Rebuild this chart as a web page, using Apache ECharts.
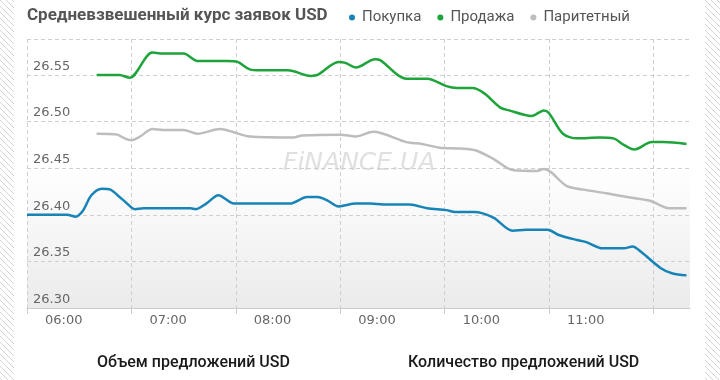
<!DOCTYPE html>
<html><head><meta charset="utf-8">
<script src="https://cdn.jsdelivr.net/npm/echarts@6/dist/echarts.min.js"></script>
<style>html,body{margin:0;padding:0;background:#fff}#c{width:720px;height:380px}</style>
</head><body><div id="c"></div>
<script>
const xTickLabels = ['06:00','07:00','08:00','09:00','10:00','11:00'];
const seriesNames = ['Покупка','Продажа','Паритетный'];

const buyTimes = ['06:00','06:23','06:28','06:32','06:37','06:43','06:48','06:52','06:57','07:02','07:07','07:34','07:37','07:43','07:50','07:59','08:08','08:31','08:41','08:47','08:53','08:59','09:09','09:17','09:25','09:40','09:50','10:01','10:06','10:17','10:28','10:39','10:47','10:59','11:06','11:16','11:21','11:31','11:43','11:48','11:53','12:04','12:11','12:19'];
const buyValues = [26.400,26.400,26.398,26.404,26.421,26.428,26.427,26.421,26.413,26.406,26.407,26.407,26.406,26.412,26.421,26.412,26.412,26.412,26.419,26.419,26.415,26.409,26.412,26.412,26.411,26.411,26.407,26.405,26.403,26.403,26.397,26.383,26.384,26.384,26.378,26.373,26.371,26.364,26.364,26.366,26.360,26.343,26.337,26.335];

const sellTimes = ['06:40','06:53','06:59','07:12','07:18','07:30','07:38','07:55','08:01','08:08','08:14','08:30','08:43','08:47','08:59','09:03','09:09','09:20','09:23','09:38','09:50','10:01','10:07','10:16','10:23','10:32','10:37','10:50','10:57','11:00','11:08','11:16','11:29','11:37','11:43','11:49','11:59','12:06','12:19'];
const sellValues = [26.550,26.550,26.547,26.574,26.573,26.573,26.565,26.565,26.564,26.556,26.555,26.555,26.549,26.550,26.564,26.563,26.558,26.567,26.566,26.546,26.546,26.538,26.536,26.536,26.530,26.515,26.512,26.506,26.512,26.509,26.487,26.482,26.483,26.482,26.475,26.470,26.478,26.478,26.476];

const parTimes = ['06:40','06:52','06:55','07:00','07:05','07:12','07:18','07:30','07:38','07:51','07:58','08:08','08:33','08:38','09:00','09:09','09:19','09:38','09:47','09:57','10:09','10:18','10:28','10:39','10:53','10:57','11:01','11:10','11:20','11:33','11:45','11:58','12:09','12:19'];
const parValues = [26.487,26.486,26.483,26.480,26.484,26.492,26.491,26.491,26.487,26.492,26.489,26.484,26.483,26.485,26.486,26.484,26.489,26.478,26.476,26.472,26.471,26.469,26.460,26.448,26.447,26.449,26.446,26.431,26.427,26.423,26.419,26.415,26.407,26.407];

function toMin(t){const p=t.split(':');return +p[0]*60 + +p[1];}
function pairs(ts, vs){return ts.map((t,i)=>[toMin(t), vs[i]]);}

// hatch pattern
const pc = document.createElement('canvas'); pc.width=6; pc.height=6;
const g = pc.getContext('2d'); g.strokeStyle='#d4d4d4'; g.lineWidth=1;
g.beginPath(); g.moveTo(0,0); g.lineTo(6,6); g.moveTo(-3,3); g.lineTo(3,9); g.moveTo(3,-3); g.lineTo(9,3); g.stroke();

const chart = echarts.init(document.getElementById('c'));
const colors = ['#1684b6','#1ea43a','#bdbdbd'];
const ff = 'Roboto, "Liberation Sans", sans-serif';
chart.setOption({
  animation:false,
  color: colors,
  title:[
    {text:'Средневзвешенный курс заявок USD', left:22, top:2, textStyle:{fontFamily:ff, fontWeight:'bold', fontSize:17, color:'#555'}},
    {text:'Объем предложений USD', left:92, top:350, textStyle:{fontFamily:ff, fontWeight:500, fontSize:16, color:'#1a1a1a'}},
    {text:'Количество предложений USD', left:403, top:350, textStyle:{fontFamily:ff, fontWeight:500, fontSize:16, color:'#1a1a1a'}}
  ],
  legend:{left:344, top:5, icon:'circle', itemWidth:6, itemHeight:6, itemGap:16,
    textStyle:{fontFamily:ff, fontSize:15, color:'#555', padding:[0,0,0,2]},
    data: seriesNames},
  grid:{left:27, right:30, top:39, bottom:72, show:true, borderWidth:0,
    backgroundColor:{type:'linear',x:0,y:0,x2:0,y2:1,colorStops:[{offset:0,color:'#ffffff'},{offset:0.48,color:'#ffffff'},{offset:1,color:'#ebebeb'}]}},
  xAxis:{type:'value', min:360, max:741, interval:60,
    axisLine:{show:true, lineStyle:{color:'#cccccc'}},
    axisTick:{show:true, length:6, lineStyle:{color:'#cccccc'}},
    splitLine:{show:true, showMaxLine:false, lineStyle:{color:'#cfcfcf', type:[4,3]}},
    axisLabel:{showMaxLabel:false, align:'left', padding:[0,0,0,18], margin:6, fontFamily:'DejaVu Sans', fontSize:13, color:'#666',
      formatter:v=>xTickLabels[Math.round((v-360)/60)]||''}},
  yAxis:{type:'value', min:26.30, max:26.5886, interval:0.05,
    axisLine:{show:false}, axisTick:{show:false},
    splitLine:{show:true, lineStyle:{color:'#cfcfcf', type:[4,3]}},
    axisLabel:{inside:true, showMaxLabel:false, margin:6, verticalAlign:'bottom', padding:[0,0,2,0], fontFamily:'DejaVu Sans', fontSize:13, color:'#666',
      formatter:v=>v.toFixed(2)}},
  graphic:[
    {type:'rect', left:0, top:0, shape:{width:14, height:380}, style:{fill:{image:pc, repeat:'repeat'}}, silent:true},
    {type:'rect', left:705, top:0, shape:{width:15, height:380}, style:{fill:{image:pc, repeat:'repeat'}}, silent:true},
    {type:'text', left:283, top:151, z:0, style:{text:'FiNANCE.UA', font:'italic 25px "DejaVu Sans"', fill:'#e0e0e0'}, silent:true}
  ],
  series:[
    {name:seriesNames[0], type:'line', data:pairs(buyTimes,buyValues), smooth:0.3, showSymbol:false, lineStyle:{width:2.5}},
    {name:seriesNames[1], type:'line', data:pairs(sellTimes,sellValues), smooth:0.3, showSymbol:false, lineStyle:{width:2.5}},
    {name:seriesNames[2], type:'line', data:pairs(parTimes,parValues), smooth:0.3, showSymbol:false, lineStyle:{width:2.5}}
  ]
});
</script></body></html>
